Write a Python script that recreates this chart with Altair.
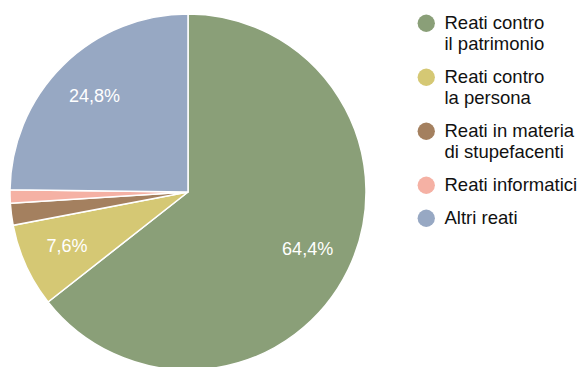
import altair as alt
import pandas as pd

categories = [
    "Reati contro\nil patrimonio",
    "Reati contro\nla persona",
    "Reati in materia\ndi stupefacenti",
    "Reati informatici",
    "Altri reati",
]
values = [64.4, 7.6, 2.0, 1.2, 24.8]
labels = ["64,4%", "7,6%", "", "", "24,8%"]
colors = ["#8a9f78", "#d5c874", "#a4805f", "#f5b1a4", "#97a8c3"]

df = pd.DataFrame({
    "categoria": categories,
    "valore": values,
    "etichetta": labels,
    "ordine": list(range(len(categories))),
})

base = alt.Chart(df).encode(
    theta=alt.Theta("valore:Q", stack=True),
    order=alt.Order("ordine:Q"),
)

pie = base.mark_arc(radius=178, stroke="white", strokeWidth=1.5).encode(
    x=alt.value(188),
    y=alt.value(192),
    color=alt.Color(
        "categoria:N",
        scale=alt.Scale(domain=categories, range=colors),
        sort=categories,
        legend=alt.Legend(
            title=None,
            orient="none",
            legendX=417,
            legendY=14,
            symbolType="circle",
            symbolSize=300,
            symbolStrokeWidth=0,
            labelFont="Liberation Sans",
            labelFontSize=18.5,
            labelColor="#111111",
            labelExpr="split(datum.label, '\\n')",
            labelLimit=300,
            labelOffset=9,
            rowPadding=14,
            labelBaseline="middle",
        ),
    ),
)

text = base.mark_text(
    radius=133, font="Liberation Sans", fontSize=18, color="white"
).encode(
    x=alt.value(188),
    y=alt.value(192),
    text="etichetta:N",
)

chart = (pie + text).properties(
    width=582, height=367, autosize=alt.AutoSizeParams(type="none"), padding=0
).configure_view(stroke=None)

chart.save("out.html", embed_options={"renderer": "svg", "actions": False})
